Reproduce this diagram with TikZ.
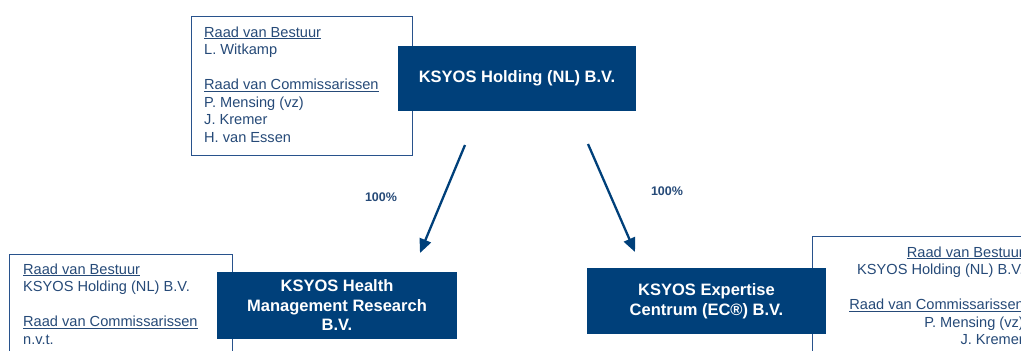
\documentclass[tikz,border=0pt]{standalone}
\usepackage{fontspec}
\setmainfont{Liberation Sans}
\usetikzlibrary{arrows.meta}
\definecolor{boxblue}{RGB}{0,64,122}
\definecolor{txtblue}{RGB}{38,74,120}
\definecolor{lineblue}{RGB}{40,82,140}
\tikzset{
  infobox/.style={draw=lineblue, line width=1.3pt, fill=white, anchor=north west, inner sep=0pt},
  infotxt/.style={text=txtblue, inner sep=0pt, font=\fontsize{14.6}{17.5}\selectfont},
  orgbox/.style={fill=boxblue, draw=none, text=white, align=center, inner sep=0pt,
    font=\bfseries\fontsize{16.5}{19.5}\selectfont},
  own/.style={draw=boxblue, line width=2.3pt, -{Triangle[length=14pt,width=12pt]}},
  pct/.style={text=txtblue, inner sep=0pt, font=\bfseries\fontsize{12.5}{15}\selectfont}
}
\begin{document}
\begin{tikzpicture}[x=1pt,y=-1pt]
\useasboundingbox (0,0) rectangle (1021,351);
\clip (0,0) rectangle (1021,351);
% info boxes
\node[infobox, minimum width=221pt, minimum height=139pt] (ib1) at (191,16) {};
\node[infobox, minimum width=223pt, minimum height=110pt] (ib2) at (9,254) {};
\node[infobox, minimum width=230pt, minimum height=120pt] (ib3) at (812,236) {};
% top-left info text
\node[infotxt, anchor=base west] (t11) at (204,37) {\underline{Raad van Bestuur}};
\node[infotxt, anchor=base west] (t12) at (204,54.5) {L. Witkamp};
\node[infotxt, anchor=base west] (t13) at (204,89.5) {\underline{Raad van Commissarissen}};
\node[infotxt, anchor=base west] (t14) at (204,107) {P. Mensing (vz)};
\node[infotxt, anchor=base west] (t15) at (204,124.5) {J. Kremer};
\node[infotxt, anchor=base west] (t16) at (204,142) {H. van Essen};
% bottom-left info text
\node[infotxt, anchor=base west] (t21) at (23,274) {\underline{Raad van Bestuur}};
\node[infotxt, anchor=base west] (t22) at (23,291.5) {KSYOS Holding (NL) B.V.};
\node[infotxt, anchor=base west] (t23) at (23,326.5) {\underline{Raad van Commissarissen}};
\node[infotxt, anchor=base west] (t24) at (23,344) {n.v.t.};
% right info text
\node[infotxt, anchor=base east] (t31) at (1024,257) {\underline{Raad van Bestuur}};
\node[infotxt, anchor=base east] (t32) at (1024,274.5) {KSYOS Holding (NL) B.V.};
\node[infotxt, anchor=base east] (t33) at (1024,309.5) {\underline{Raad van Commissarissen}};
\node[infotxt, anchor=base east] (t34) at (1024,327) {P. Mensing (vz)};
\node[infotxt, anchor=base east] (t35) at (1024,344.5) {J. Kremer};
% organisation boxes
\node[orgbox, minimum width=238pt, minimum height=65pt] (hold) at (517,78.5) {KSYOS Holding (NL) B.V.};
\node[orgbox, minimum width=240pt, minimum height=67pt] (hmr) at (337,305.5) {KSYOS Health\\Management Research\\B.V.};
\node[orgbox, minimum width=239pt, minimum height=66pt] (ec) at (706.5,301) {KSYOS Expertise\\Centrum (EC\textregistered) B.V.};
% arrows
\coordinate (a1s) at (465,145);
\coordinate (a1e) at (420,253);
\coordinate (a2s) at (588,144);
\coordinate (a2e) at (635,252);
\draw[own] (a1s) -- (a1e);
\draw[own] (a2s) -- (a2e);
\node[pct] (p1) at (381,197) {100\%};
\node[pct] (p2) at (667,191.5) {100\%};
\end{tikzpicture}
\end{document}
